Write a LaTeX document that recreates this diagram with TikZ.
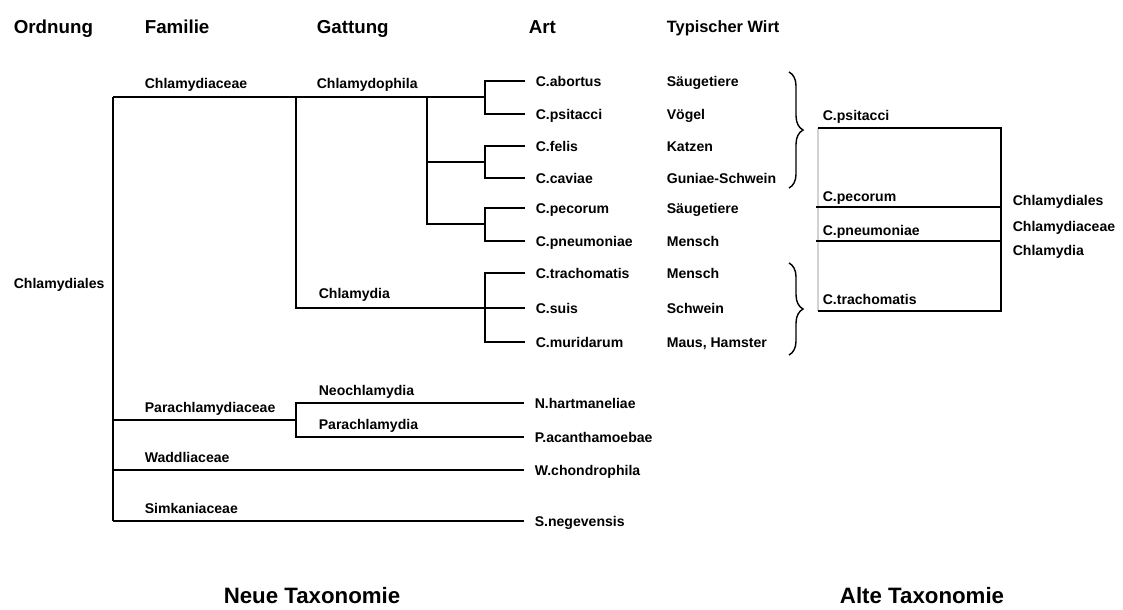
\documentclass[tikz,border=0pt]{standalone}
\usepackage{fontspec}
\setmainfont{Liberation Sans}
\usetikzlibrary{decorations.pathreplacing}
\tikzset{
  every picture/.style={line width=1.4pt},
  header/.style={font=\fontsize{16}{18}\selectfont\bfseries, anchor=west, inner sep=0pt,
                 text height=13pt, text depth=2.4pt},
  taxon/.style={font=\fontsize{12}{14}\selectfont\bfseries, anchor=west, inner sep=0pt,
                text height=11pt, text depth=1.4pt},
  species/.style={taxon, inner xsep=8.5pt},
  title/.style={font=\fontsize{19}{22}\selectfont\bfseries, inner sep=0pt,
                text height=13.7pt, text depth=4pt},
  wing/.style={decorate, decoration={brace, amplitude=12pt}, line width=1.2pt},
  faint/.style={draw=gray!35, line width=1pt},
}

\begin{document}
\begin{tikzpicture}[x=0.03cm, y=-0.03cm]
  \useasboundingbox (0,0) rectangle (1123,609);

  % column heads
  \node[header] (h-ordnung) at (13,27) {Ordnung};
  \node[header] (h-familie) at (144,27) {Familie};
  \node[header] (h-gattung) at (316,27) {Gattung};
  \node[header] (h-art) at (528,27) {Art};
  \node[header, font=\fontsize{14}{16}\selectfont\bfseries] (h-wirt) at (666,26) {Typischer Wirt};

  % neue Taxonomie: Knoten
  \coordinate (ord-top) at (113,97);
  \coordinate (ord-bot) at (113,521);
  \coordinate (fam-chl) at (296,97);
  \coordinate (gen-cph) at (427,97);
  \coordinate (j-a) at (485,97);
  \coordinate (j-b) at (485,162);
  \coordinate (j-c) at (485,224);
  \coordinate (j-d) at (485,308);
  \coordinate (fam-par) at (113,420);
  \coordinate (j-par) at (296,420);
  \coordinate (fam-wad) at (113,470);

  \node[taxon] (l-ordnung) at (13,283) {Chlamydiales};
  \node[taxon] (l-chlamydiaceae) at (144,83) {Chlamydiaceae};
  \node[taxon] (l-chlamydophila) at (316,83) {Chlamydophila};
  \node[taxon] (l-chlamydia) at (318,293) {Chlamydia};
  \node[taxon] (l-parachlamydiaceae) at (144,407) {Parachlamydiaceae};
  \node[taxon] (l-neochlamydia) at (318,390) {Neochlamydia};
  \node[taxon] (l-parachlamydia) at (318,424) {Parachlamydia};
  \node[taxon] (l-waddliaceae) at (144,457) {Waddliaceae};
  \node[taxon] (l-simkaniaceae) at (144,508) {Simkaniaceae};

  % Arten mit Wirt
  \foreach \sp/\y/\host in {abortus/81/Säugetiere, psitacci/114/Vögel,
                            felis/146/Katzen, caviae/178/Guniae-Schwein,
                            pecorum/208/Säugetiere, pneumoniae/241/Mensch,
                            trachomatis/273/Mensch, suis/308/Schwein,
                            muridarum/342/{Maus, Hamster}} {
    \node[species] (\sp) at (525,\y) {C.\sp};
    \node[taxon] (wirt-\sp) at (666,\y) {\host};
  }
  \node[species] (hartmaneliae) at (524,403) {N.hartmaneliae};
  \node[species] (acanthamoebae) at (524,437) {P.acanthamoebae};
  \node[species] (chondrophila) at (524,470) {W.chondrophila};
  \node[species] (negevensis) at (524,521) {S.negevensis};

  % Baum
  \draw (ord-top) -- (ord-bot);
  \draw (ord-top) -- (j-a);
  \draw (fam-chl) |- (j-d);
  \draw (gen-cph) |- (j-c);
  \draw (gen-cph |- j-b) -- (j-b);
  \draw (abortus.west) -| (j-a) |- (psitacci.west);
  \draw (felis.west) -| (j-b) |- (caviae.west);
  \draw (pecorum.west) -| (j-c) |- (pneumoniae.west);
  \draw (trachomatis.west) -| (j-d) |- (muridarum.west);
  \draw (j-d) -- (suis.west);
  \draw (fam-par) -- (j-par);
  \draw (hartmaneliae.west) -| (j-par) |- (acanthamoebae.west);
  \draw (fam-wad) -- (chondrophila.west);
  \draw (ord-bot) -- (negevensis.west);

  % Klammern
  \coordinate (br1-top) at (789,72);
  \coordinate (br1-bot) at (789,188);
  \coordinate (br2-top) at (789,263);
  \coordinate (br2-bot) at (789,355);
  \draw[wing] (br1-top) -- (br1-bot);
  \draw[wing] (br2-top) -- (br2-bot);

  % alte Taxonomie
  \coordinate (ob-tl) at (818,128);
  \coordinate (ob-tr) at (1001,128);
  \coordinate (ob-bl) at (818,311);
  \coordinate (ob-br) at (1001,311);
  \coordinate (ob-m1) at (816,207);
  \coordinate (ob-m2) at (816,241);
  \node[taxon] (o-psitacci) at (822,115) {C.psitacci};
  \node[taxon] (o-pecorum) at (822,196) {C.pecorum};
  \node[taxon] (o-pneumoniae) at (822,230) {C.pneumoniae};
  \node[taxon] (o-trachomatis) at (822,299) {C.trachomatis};
  \draw[faint] (ob-tl) -- (ob-bl);
  \draw (ob-tl) -- (ob-tr) -- (ob-br) -- (ob-bl);
  \draw (ob-m1) -- (ob-m1 -| ob-tr);
  \draw (ob-m2) -- (ob-m2 -| ob-tr);
  \node[taxon] (o-ordnung) at (1012,200) {Chlamydiales};
  \node[taxon] (o-familie) at (1012,226) {Chlamydiaceae};
  \node[taxon] (o-gattung) at (1012,250) {Chlamydia};

  % Titel
  \node[title] (t-neu) at (312,598) {Neue Taxonomie};
  \node[title] (t-alt) at (922,598) {Alte Taxonomie};
\end{tikzpicture}
\end{document}
